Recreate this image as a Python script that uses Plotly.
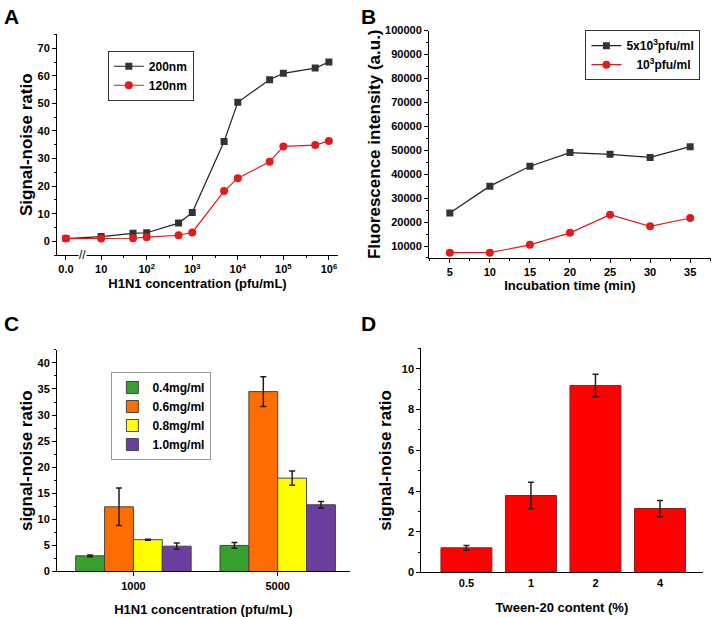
import math
import plotly.graph_objects as go

# ---------------- Data ----------------
# Panel A
a_conc = [0, 10, 50, 100, 500, 1000, 5000, 1e4, 5e4, 1e5, 5e5, 1e6]
a_200nm = [1.0, 1.7, 2.9, 3.1, 6.6, 10.4, 36.2, 50.4, 58.6, 60.9, 62.8, 65.0]
a_120nm = [1.0, 1.0, 1.1, 1.5, 2.2, 3.2, 18.2, 22.9, 28.8, 34.4, 34.9, 36.4]
a_tick_labels = ["0.0", "10", "10<sup>2</sup>", "10<sup>3</sup>", "10<sup>4</sup>", "10<sup>5</sup>", "10<sup>6</sup>"]
a_tick_conc = [0, 10, 100, 1000, 1e4, 1e5, 1e6]

# Panel B
b_time = [5, 10, 15, 20, 25, 30, 35]
b_5e3 = [23800, 35000, 43300, 49000, 48300, 47000, 51500]
b_1e3 = [7200, 7200, 10500, 15500, 23100, 18200, 21700]

# Panel C
c_cats = ["1000", "5000"]
c_series = ["0.4mg/ml", "0.6mg/ml", "0.8mg/ml", "1.0mg/ml"]
c_vals = [[3.0, 5.0], [12.4, 34.5], [6.1, 17.9], [4.85, 12.8]]
c_errs = [[0.15, 0.55], [3.6, 2.85], [0.1, 1.35], [0.6, 0.6]]
c_colors = ["#36a12e", "#ff6d00", "#ffff00", "#6b3fa0"]

# Panel D
d_cats = ["0.5", "1", "2", "4"]
d_vals = [1.21, 3.78, 9.18, 3.14]
d_errs = [0.12, 0.65, 0.55, 0.4]

# ---------------- Helpers ----------------
ZERO_POS = 0.226  # position of the "0.0" point on the broken log axis

def a_pos(c):
    return ZERO_POS if c == 0 else math.log10(c)

FONT = "Liberation Sans, Arial, sans-serif"
BLACK = "#222222"
RED = "#e4191c"

fig = go.Figure()

# Panel A traces
fig.add_trace(go.Scatter(x=[a_pos(c) for c in a_conc], y=a_200nm, name="200nm",
                         mode="lines+markers", line=dict(color=BLACK, width=1.2),
                         marker=dict(symbol="square", size=7, color="#333333"),
                         xaxis="x", yaxis="y", legend="legend"))
fig.add_trace(go.Scatter(x=[a_pos(c) for c in a_conc], y=a_120nm, name="120nm",
                         mode="lines+markers", line=dict(color=RED, width=1.2),
                         marker=dict(symbol="circle", size=8, color=RED),
                         xaxis="x", yaxis="y", legend="legend"))

# Panel B traces
fig.add_trace(go.Scatter(x=b_time, y=b_5e3, name="5x10<sup>3</sup>pfu/ml",
                         mode="lines+markers", line=dict(color=BLACK, width=1.2),
                         marker=dict(symbol="square", size=7, color="#333333"),
                         xaxis="x2", yaxis="y2", legend="legend2"))
fig.add_trace(go.Scatter(x=b_time, y=b_1e3, name="   10<sup>3</sup>pfu/ml",
                         mode="lines+markers", line=dict(color=RED, width=1.2),
                         marker=dict(symbol="circle", size=8, color=RED),
                         xaxis="x2", yaxis="y2", legend="legend2"))

# Panel C traces
for name, vals, errs, col in zip(c_series, c_vals, c_errs, c_colors):
    fig.add_trace(go.Bar(x=c_cats, y=vals, name=name, marker=dict(color=col, line=dict(color="#444444", width=1)),
                         error_y=dict(type="data", array=errs, color="#2a1a10", thickness=1.5, width=3),
                         xaxis="x3", yaxis="y3", legend="legend3"))

# Panel D trace
fig.add_trace(go.Bar(x=d_cats, y=d_vals, name="D", showlegend=False, width=0.79,
                     marker=dict(color="#ff0000", line=dict(color="#8a2020", width=1)),
                     error_y=dict(type="data", array=d_errs, color="#222222", thickness=1.5, width=3),
                     xaxis="x4", yaxis="y4"))

tickfont = dict(family=FONT, size=11, color="black", weight="bold")
XT = dict(family=FONT, size=13, weight="bold", color="black")
YT = dict(family=FONT, size=17, weight="bold", color="black")

def axis_common(**kw):
    d = dict(showline=True, linecolor="black", linewidth=1, ticks="outside", ticklen=4,
             tickcolor="black", showgrid=False, zeroline=False, tickfont=tickfont)
    d.update(kw)
    return d

fig.update_layout(
    width=714, height=617, margin=dict(l=0, r=0, t=0, b=0),
    paper_bgcolor="white", plot_bgcolor="white",
    font=dict(family=FONT, color="black"),
    barmode="group", bargap=0.2, bargroupgap=0,
    xaxis=axis_common(domain=[0.0798, 0.4734], anchor="y", range=[0.03, 6.2],
                      tickvals=[a_pos(c) for c in a_tick_conc], ticktext=a_tick_labels,
                      minor=dict(ticks="outside", ticklen=2, tickvals=[1.5, 2.5, 3.5, 4.5, 5.5], tickcolor="black"),
                      title=dict(text="H1N1 concentration (pfu/mL)", font=XT, standoff=4)),
    yaxis=axis_common(domain=[0.5883, 0.953], anchor="x", range=[-5, 75], dtick=10, tick0=0,
                      minor=dict(ticks="outside", ticklen=2, dtick=5, tickcolor="black"),
                      title=dict(text="Signal-noise ratio", font=YT, standoff=0)),
    xaxis2=axis_common(domain=[0.6008, 0.9958], anchor="y2", range=[2.4, 37.6], dtick=5, tick0=0,
                       minor=dict(ticks="outside", ticklen=2, dtick=2.5, tickcolor="black"),
                       title=dict(text="Incubation time (min)", font=XT, standoff=3)),
    yaxis2=axis_common(domain=[0.5835, 0.9595], anchor="x2", range=[5000, 100000], dtick=10000, tick0=0,
                       tickformat="d",
                       minor=dict(ticks="outside", ticklen=2, dtick=5000, tickcolor="black"),
                       title=dict(text="Fluorescence intensity (a.u.)", font=YT, standoff=0)),
    xaxis3=axis_common(domain=[0.0798, 0.490], anchor="y3", type="category", range=[-0.53, 1.5],
                       title=dict(text="H1N1 concentration (pfu/mL)", font=XT, standoff=15)),
    yaxis3=axis_common(domain=[0.0653, 0.4316], anchor="x3", range=[0, 42.5], dtick=5, tick0=0,
                       minor=dict(ticks="outside", ticklen=2, dtick=2.5, tickcolor="black"),
                       title=dict(text="signal-noise ratio", font=YT, standoff=0)),
    xaxis4=axis_common(domain=[0.590, 0.984], anchor="y4", type="category", range=[-0.7, 3.66], ticks="",
                       title=dict(text="Tween-20 content (%)", font=XT, standoff=15)),
    yaxis4=axis_common(domain=[0.0637, 0.4339], anchor="x4", range=[0, 11], dtick=2, tick0=0,
                       minor=dict(ticks="outside", ticklen=2, dtick=1, tickcolor="black"),
                       title=dict(text="signal-noise ratio", font=YT, standoff=5)),
    legend=dict(x=0.151, y=0.926, xanchor="left", yanchor="top", bgcolor="white",
                bordercolor="#333333", borderwidth=1, font=dict(family=FONT, size=12, weight="bold"),
                tracegroupgap=0, itemwidth=30),
    legend2=dict(x=0.981, y=0.96, xanchor="right", yanchor="top", bgcolor="white",
                 bordercolor="#333333", borderwidth=1, font=dict(family=FONT, size=12, weight="bold"),
                 tracegroupgap=0, itemwidth=30),
    legend3=dict(x=0.156, y=0.395, xanchor="left", yanchor="top", bgcolor="white",
                 bordercolor="#999999", borderwidth=1, font=dict(family=FONT, size=12, weight="bold"),
                 tracegroupgap=0, itemwidth=30),
)

# panel letters and axis break
letters = [("A", 0.003, 1.005), ("B", 0.503, 1.005), ("C", 0.003, 0.497), ("D", 0.503, 0.497)]
for t, x, y in letters:
    fig.add_annotation(text=t, x=x, y=y, xref="paper", yref="paper", xanchor="left", yanchor="top",
                       showarrow=False, font=dict(family=FONT, size=21, weight="bold", color="black"))
fig.add_annotation(text="//", x=0.6, y=-5, xref="x", yref="y", showarrow=False,
                   font=dict(size=12, color="black"), bgcolor="white", borderpad=0)

fig.write_html("out.html", config={"displayModeBar": False},
               post_script="document.body.style.margin='0';document.body.style.overflow='hidden';")
